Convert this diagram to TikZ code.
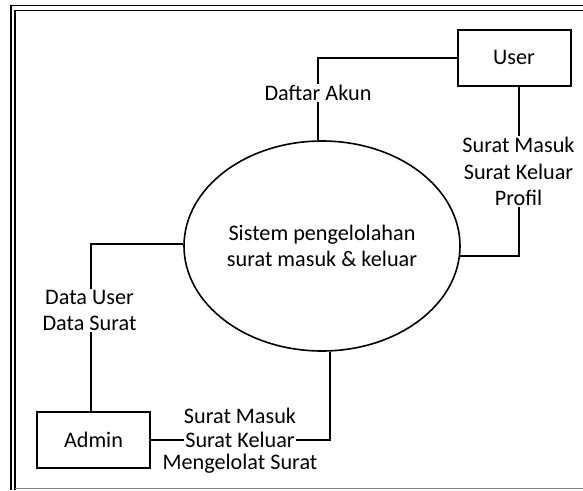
\documentclass[tikz,border=0pt]{standalone}
\usepackage{fontspec}
\setmainfont{Carlito}
\usetikzlibrary{shapes.geometric}
\begin{document}
\begin{tikzpicture}[x=1pt,y=-1pt,
  every node/.style={font=\fontsize{22.2}{26.5}\selectfont, align=center},
  entity/.style={draw, line width=2pt, inner sep=0pt, minimum width=113pt, minimum height=56pt},
  proc/.style={draw, ellipse, line width=1.6pt, inner sep=0pt, minimum width=276pt, minimum height=210pt},
  flow/.style={line width=2pt},
  lbl/.style={fill=white, inner sep=1.5pt},
  plainlbl/.style={inner sep=1.5pt},
  frameline/.style={line width=1.8pt}
]
\useasboundingbox (0,0) rectangle (583,490);
% frame
\draw[frameline] (10.8,490) -- (10.8,5.5) -- (583,5.5);
\draw[frameline] (14.6,490) -- (14.6,10.5) -- (583,10.5);
\draw[line width=1.5pt, gray] (14.6,488.7) -- (583,488.7);

% nodes
\node[entity] (user) at (514,57.5) {User};
\node[proc] (sys) at (322,246) {Sistem pengelolahan\\surat masuk \& keluar};
\node[entity] (admin) at (93.5,439.5) {Admin};

% connectors
\draw[flow] (user.west) -| ([xshift=-4pt]sys.north);
\draw[flow] ([xshift=5pt]user.south) |- (sys.-4);
\draw[flow] (sys.179) -| ([xshift=-2.5pt]admin.north);
\draw[flow] (admin.east) -| ([xshift=8pt]sys.south);

% labels
\node[lbl] (l1) at (318,93) {Daftar Akun};
\node[lbl] (l2) at (518.5,171.5) {Surat Masuk\\Surat Keluar\\Profil};
\node[lbl] (l3) at (89.5,310.5) {Data User\\Data Surat};
\node[plainlbl] (l4a) at (240,416) {Surat Masuk};
\node[lbl] (l4b) at (240,440) {Surat Keluar};
\node[plainlbl] (l4c) at (240,464) {Mengelolat Surat};
\end{tikzpicture}
\end{document}
